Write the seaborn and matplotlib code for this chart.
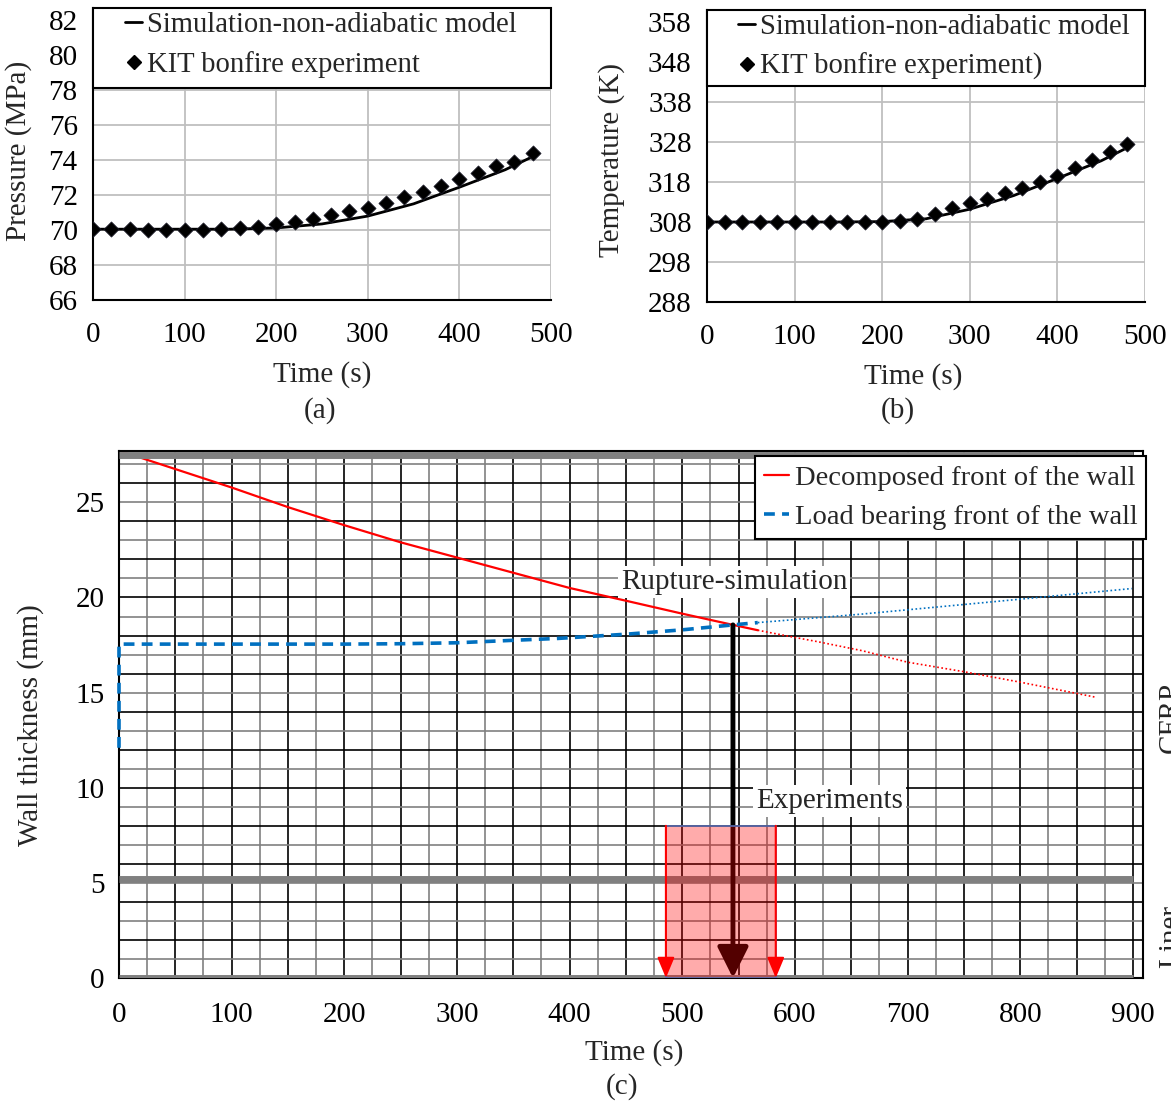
import numpy as np
import pandas as pd
import matplotlib
matplotlib.use("Agg")
import matplotlib.pyplot as plt
import seaborn as sns
from matplotlib.patches import Rectangle
from matplotlib.lines import Line2D

# --- data ---
# (a) pressure
p_exp_t = [0, 20, 40, 60, 80, 100, 120, 140, 160, 180, 200, 220, 240, 260, 280,
           300, 320, 340, 360, 380, 400, 420, 440, 460, 480]
p_exp = [70.05, 70.05, 70.05, 70.0, 70.03, 70.03, 70.0, 70.04, 70.1, 70.2, 70.33, 70.46,
         70.65, 70.84, 71.07, 71.28, 71.57, 71.88, 72.2, 72.5, 72.9, 73.28, 73.68, 73.9, 74.38]
p_sim_t = [0, 50, 100, 150, 200, 250, 300, 350, 400, 450, 480]
p_sim = [70.05, 70.05, 70.05, 70.05, 70.12, 70.35, 70.8, 71.5, 72.45, 73.45, 74.2]

# (b) temperature
t_exp_t = p_exp_t
t_exp = [308.0, 308.0, 308.0, 307.9, 307.9, 307.9, 307.9, 307.9, 307.9, 307.9, 308.0, 308.3,
         308.8, 309.9, 311.4, 312.7, 313.7, 315.2, 316.5, 318.1, 319.6, 321.5, 323.5, 325.5, 327.4]
t_sim_t = [0, 50, 100, 150, 200, 250, 300, 350, 400, 450, 480]
t_sim = [308.0, 308.0, 308.0, 308.0, 308.1, 308.8, 311.2, 314.6, 318.9, 323.3, 326.6]

# (c) wall thickness fronts
dec_t = [0, 50, 100, 150, 200, 250, 300, 350, 400, 450, 500, 545, 567]
dec_mm = [27.72, 26.75, 25.78, 24.75, 23.8, 22.9, 22.1, 21.3, 20.5, 19.83, 19.15, 18.56, 18.28]
dec_ext_t = [567, 600, 620, 660, 700, 750, 800, 866]
dec_ext_mm = [18.28, 17.9, 17.68, 17.2, 16.6, 16.1, 15.55, 14.77]
load_t = [0, 0, 100, 200, 250, 300, 350, 390, 450, 500, 545, 567]
load_mm = [12.1, 17.55, 17.55, 17.55, 17.57, 17.62, 17.75, 17.85, 18.07, 18.3, 18.56, 18.68]
load_ext_t = [567, 658, 773, 899]
load_ext_mm = [18.68, 19.12, 19.76, 20.47]
layer_bounds = [0, 5.2, 27.5]
rupture_t = 545
rupture_mm = 18.56
exp_range = [485.5, 583]
exp_height = 8

sns.set_style("white")
plt.rcParams['font.family'] = ['Liberation Serif', 'DejaVu Serif']
plt.rcParams['font.size'] = 21
plt.rcParams['axes.linewidth'] = 1.5

FS = 21
fig = plt.figure(figsize=(11.71, 11.03), dpi=100)
W, H = 1171, 1103


def px_axes(x0, x1, ytop, ybot):
    return fig.add_axes([x0 / W, 1 - ybot / H, (x1 - x0) / W, (ybot - ytop) / H])


def top_panel(ax, tt, yy, sx, sy, ylim, yticks, ylabel, legend_bottom, exp_label):
    sns.lineplot(x=sx, y=sy, ax=ax, color='black', linewidth=2, estimator=None, zorder=4)
    sns.scatterplot(x=tt, y=yy, ax=ax, marker='D', s=60, color='black',
                    edgecolor='#202030', linewidth=0.5, zorder=5)
    ax.set_xlim(0, 500)
    ax.set_ylim(*ylim)
    ax.set_xticks(range(0, 501, 100))
    ax.set_yticks(yticks)
    ax.grid(True, color='#bfbfbf', linewidth=1.3)
    for s in ['top', 'right']:
        ax.spines[s].set_visible(False)
    for s in ['left', 'bottom']:
        ax.spines[s].set_color('black')
    ax.tick_params(axis='both', direction='out', length=7, width=1.3, colors='black',
                   labelsize=FS, pad=4)
    ax.tick_params(axis='x', pad=9)
    ax.set_xlabel('Time (s)', fontsize=FS)
    ax.set_ylabel(ylabel, fontsize=FS)
    # legend band at top
    frac = (legend_bottom - ylim[0]) / (ylim[1] - ylim[0])
    ax.add_patch(Rectangle((0, frac), 1, 1 - frac, transform=ax.transAxes,
                           facecolor='white', edgecolor='black', linewidth=1.5,
                           zorder=6, clip_on=False))
    handles = [Line2D([], [], color='black', linewidth=2),
               Line2D([], [], color='black', marker='D', markersize=7, linestyle='None')]
    ax.legend(handles, ['Simulation-non-adiabatic model', exp_label], loc='upper left',
              bbox_to_anchor=(0.045, 1.025), frameon=False, handlelength=0.6,
              handletextpad=0.15, labelspacing=0.45, fontsize=20.6, borderaxespad=0
              ).set_zorder(7)


# (a)
ax_a = px_axes(93, 551, 8, 300)
top_panel(ax_a, p_exp_t, p_exp, p_sim_t, p_sim, (66, 82.7), range(66, 83, 2),
          'Pressure (MPa)', 78.1, 'KIT bonfire experiment')
ax_a.yaxis.set_label_coords(-0.133, 0.51)
ax_a.xaxis.set_label_coords(0.5, -0.21)

# (b)
ax_b = px_axes(707, 1145, 10, 302)
top_panel(ax_b, t_exp_t, t_exp, t_sim_t, t_sim, (288, 361), range(288, 359, 10),
          'Temperature (K)', 342, 'KIT bonfire experiment)')
ax_b.yaxis.set_label_coords(-0.187, 0.485)
ax_b.xaxis.set_label_coords(0.47, -0.21)

fig.text(320 / W, 1 - 411 / H, '(a)', ha='center', va='center', fontsize=FS)
fig.text(898 / W, 1 - 411 / H, '(b)', ha='center', va='center', fontsize=FS)

# (c)
ax_c = px_axes(119, 1143, 451, 978)
ax_c.set_xlim(0, 909)
ax_c.set_ylim(0, 27.7)
ax_c.set_xticks(range(0, 901, 100))
ax_c.set_yticks(range(0, 26, 5))
# custom grid: black every 50 s / 2 mm, grey in between
for x in np.arange(25, 901, 25):
    ax_c.axvline(x, color='black' if x % 50 == 0 else '#808080', linewidth=1.2, zorder=1)
for y in np.arange(1, 28, 1):
    ax_c.axhline(y, color='black' if y % 2 == 0 else '#808080', linewidth=1.2, zorder=1)

sns.lineplot(x=dec_t, y=dec_mm, ax=ax_c, color='red', linewidth=1.6, sort=False,
             estimator=None, zorder=2)
ax_c.hlines(layer_bounds, 0, 900, color='#808080', linewidth=5, zorder=3)
sns.lineplot(x=dec_ext_t, y=dec_ext_mm, ax=ax_c, color='red', linewidth=1.2,
             linestyle=(0, (1, 1.5)), sort=False, estimator=None, zorder=4)
sns.lineplot(x=load_t, y=load_mm, ax=ax_c, color='#0070c0', linewidth=2.6,
             linestyle=(0, (3, 2)), sort=False, estimator=None, zorder=4, clip_on=False)
sns.lineplot(x=load_ext_t, y=load_ext_mm, ax=ax_c, color='#0070c0', linewidth=1.2,
             linestyle=(0, (1, 1.5)), sort=False, estimator=None, zorder=4)

# rupture arrow
ax_c.annotate('', xy=(rupture_t, 0), xytext=(rupture_t, rupture_mm),
              arrowprops=dict(arrowstyle='-|>,head_width=0.45,head_length=0.9',
                              color='black', linewidth=3.5, shrinkA=0, shrinkB=0),
              zorder=5)
# experiment window
ax_c.add_patch(Rectangle((exp_range[0], 0), exp_range[1] - exp_range[0], exp_height,
                         facecolor=(1, 0, 0, 0.33), edgecolor='#5b6fb5', linewidth=1.2,
                         zorder=6))
for xe in exp_range:
    ax_c.annotate('', xy=(xe, 0), xytext=(xe, exp_height),
                  arrowprops=dict(arrowstyle='-|>,head_width=0.25,head_length=0.6',
                                  color='red', linewidth=1.5, shrinkA=0, shrinkB=0),
                  zorder=7)

ax_c.text(rupture_t + 1, 20.8, 'Rupture-simulation', ha='center', va='center', fontsize=FS,
          bbox=dict(facecolor='white', edgecolor='none', pad=2), zorder=8)
ax_c.text(631, 9.3, 'Experiments', ha='center', va='center', fontsize=FS,
          bbox=dict(facecolor='white', edgecolor='none', pad=2), zorder=8)

for s in ax_c.spines.values():
    s.set_color('black')
    s.set_linewidth(1.5)
ax_c.tick_params(axis='both', direction='out', length=7, width=1.3, colors='black',
                 labelsize=FS)
ax_c.tick_params(axis='x', pad=10)
ax_c.set_xlabel('Time (s)', fontsize=FS)
ax_c.set_ylabel('Wall thickness (mm)', fontsize=FS)
ax_c.xaxis.set_label_coords(0.503, -0.115)
ax_c.yaxis.set_label_coords(-0.073, 0.48)

handles_c = [Line2D([], [], color='red', linewidth=1.6),
             Line2D([], [], color='#0070c0', linewidth=2.6, linestyle=(0, (3, 2)))]
leg = ax_c.legend(handles_c, ['Decomposed front of the wall', 'Load bearing front of the wall'],
                  loc='upper right', bbox_to_anchor=(1.003, 0.99), frameon=True,
                  fancybox=False, edgecolor='black', framealpha=1, fontsize=20.5,
                  handlelength=0.9, handletextpad=0.2, labelspacing=0.47, borderpad=0.3,
                  borderaxespad=0)
leg.get_frame().set_linewidth(1.5)
leg.set_zorder(9)

# layer names on right edge (cut off by figure edge as in the original)
ax_c.text(1.0146, 13.7 / 27.7, 'CFRP', transform=ax_c.transAxes, rotation=90,
          ha='left', va='center', fontsize=FS)
ax_c.text(1.0146, 2.2 / 27.7, 'Liner', transform=ax_c.transAxes, rotation=90,
          ha='left', va='center', fontsize=FS)
fig.text(622 / W, 1 - 1087 / H, '(c)', ha='center', va='center', fontsize=FS)

fig.savefig('out.png', dpi=100)
